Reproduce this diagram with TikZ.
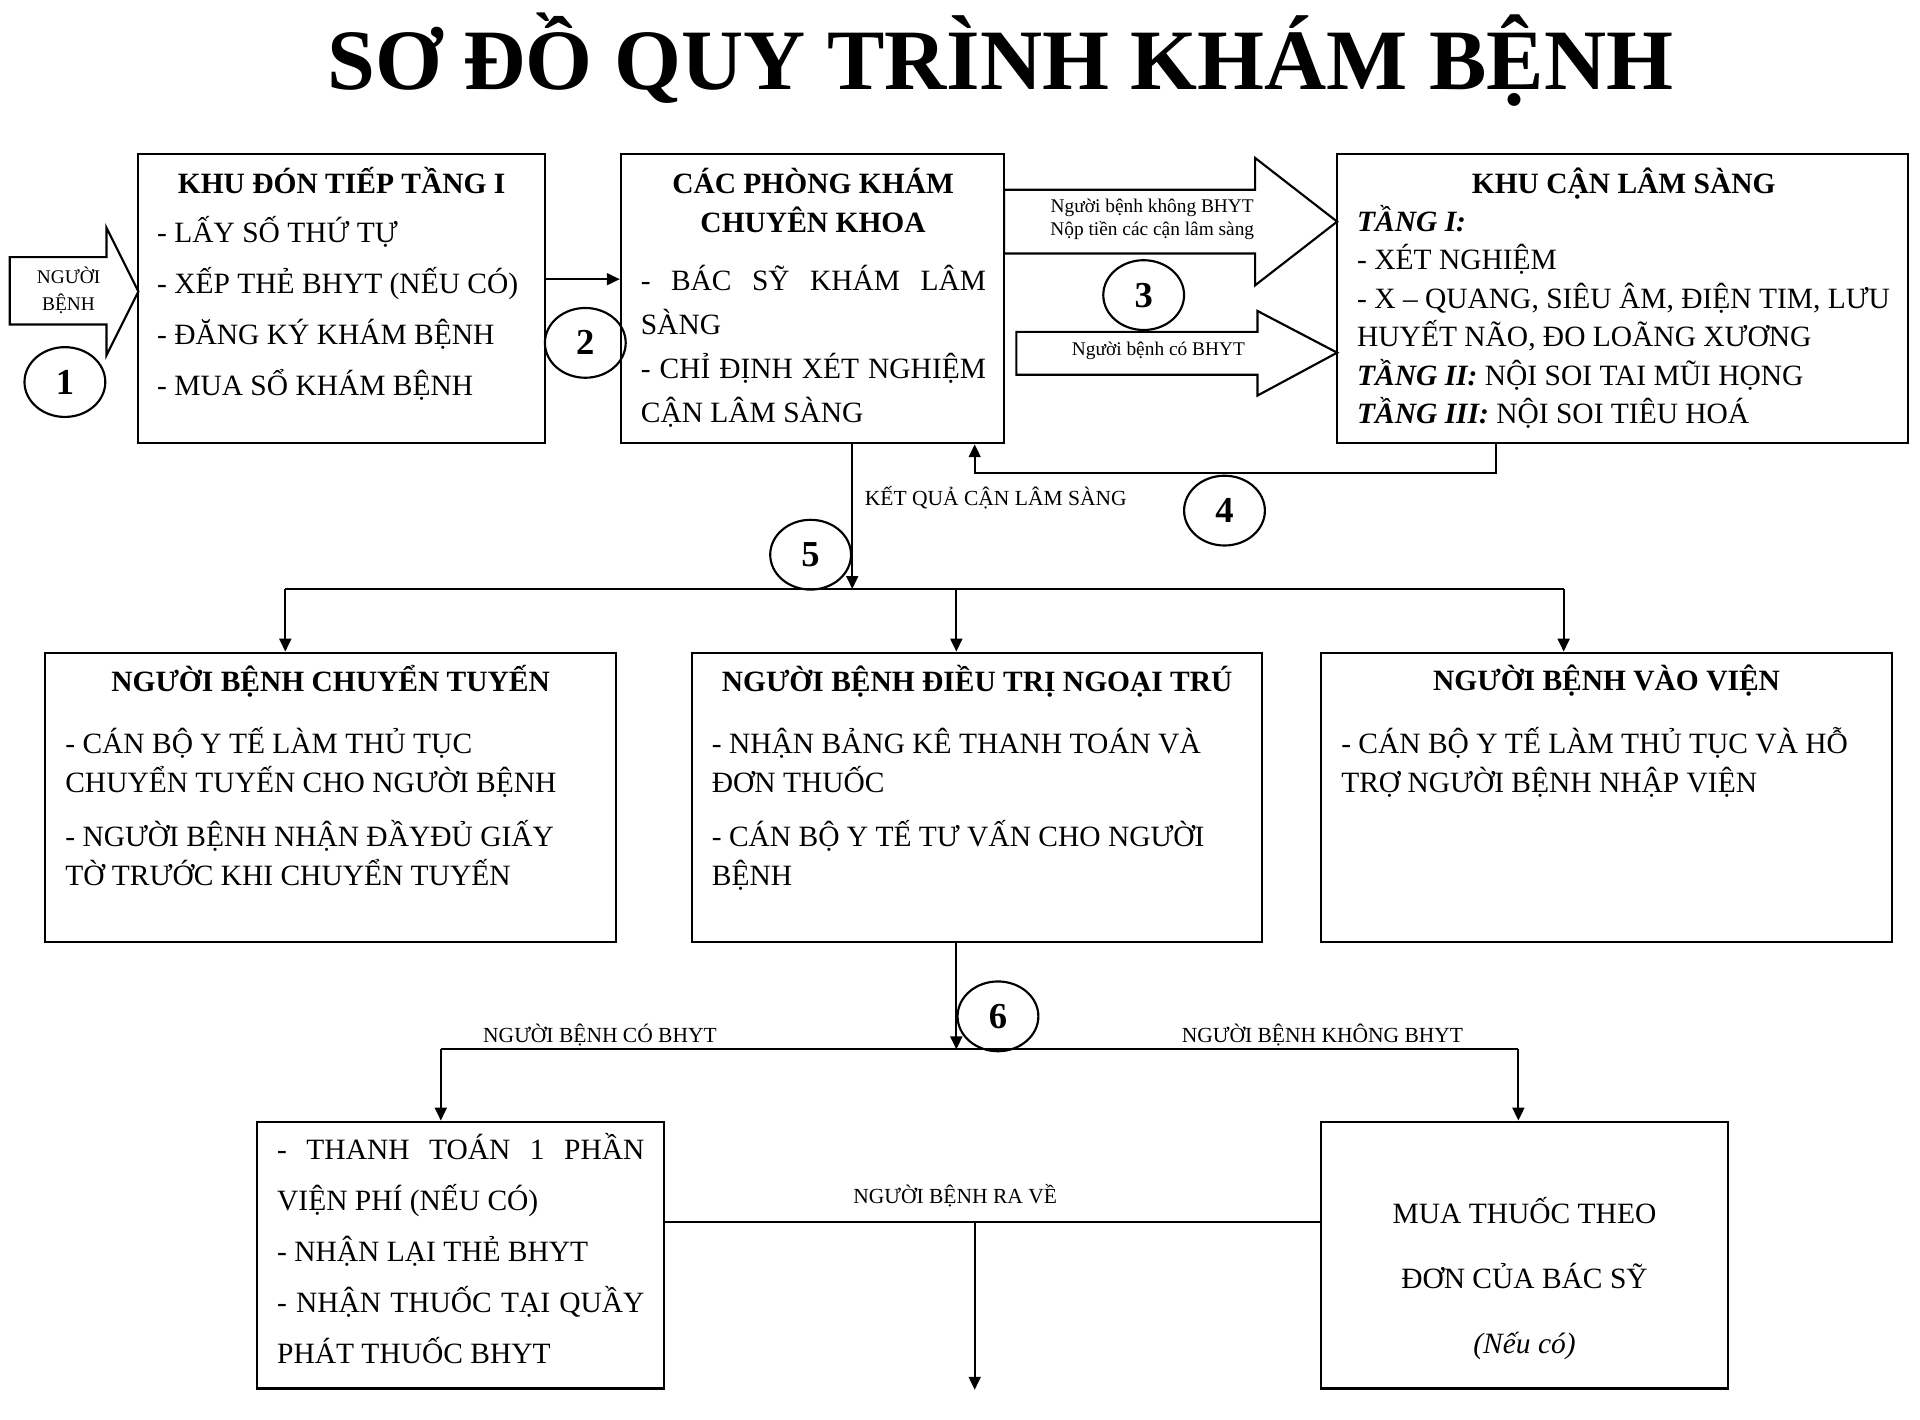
\documentclass[tikz,border=0pt]{standalone}
\usepackage{fontspec}
\setmainfont{Liberation Serif}
\usetikzlibrary{positioning,shapes.geometric,arrows.meta}
\newcommand\bodyfont[1]{\fontsize{13.7pt}{#1}\selectfont}

\begin{document}
\begin{tikzpicture}[x=0.02cm,y=-0.02cm]
    \tikzset{panel/.style={draw, line width=1pt, inner sep=0pt},
             head/.style={inner sep=0pt, anchor=north, align=center, font=\bodyfont{18.2pt}\bfseries},
             items/.style={inner sep=0pt, anchor=north west, align=left},
             tag/.style={inner sep=0pt, font=\fontsize{10pt}{12pt}\selectfont},
             num/.style={draw, ellipse, line width=1pt, minimum width=1.32cm, minimum height=1.14cm, inner sep=0pt, font=\fontsize{17pt}{17pt}\selectfont\bfseries},
             flow/.style={-{Triangle[length=6pt,width=5.5pt]}, line width=1pt},
             link/.style={line width=1pt},
             bigarrow/.style={draw, line width=1pt}}
    \useasboundingbox (0,0) rectangle (1568,1159);

    \node[anchor=base, inner sep=0pt, font=\fontsize{40pt}{40pt}\selectfont\bfseries] (title) at (817,73.5) {SƠ ĐỒ QUY TRÌNH KHÁM BỆNH};

    % top row
    \node[panel, minimum width=6.64cm, minimum height=4.72cm] (boxA) at (279,244) {};
    \node[panel, minimum width=6.26cm, minimum height=4.72cm] (boxB) at (663.5,244) {};
    \node[panel, minimum width=9.32cm, minimum height=4.72cm] (boxC) at (1325,244) {};

    \node[head] (titleA) at (279,136.6) {KHU ĐÓN TIẾP TẦNG I};
    \node[items, font=\bodyfont{23.6pt}] (textA) at (128,176.6) {- LẤY SỐ THỨ TỰ\\- XẾP THẺ BHYT (NẾU CÓ)\\- ĐĂNG KÝ KHÁM BỆNH\\- MUA SỔ KHÁM BỆNH};
    \node[head] (titleB) at (664,137) {CÁC PHÒNG KHÁM\\CHUYÊN KHOA};
    \node[items, align=justify, text width=5.64cm, font=\bodyfont{20.5pt}] (textB) at (523,216)
        {- BÁC SỸ KHÁM LÂM\linebreak SÀNG\par - CHỈ ĐỊNH XÉT NGHIỆM\linebreak CẬN LÂM SÀNG};
    \node[head] (titleC) at (1326,137) {KHU CẬN LÂM SÀNG};
    \node[items, font=\bodyfont{17.9pt}] (textC) at (1108,167)
        {\textbf{\textit{TẦNG I:}}\\- XÉT NGHIỆM\\- X – QUANG, SIÊU ÂM, ĐIỆN TIM, LƯU\\HUYẾT NÃO, ĐO LOÃNG XƯƠNG\\\textbf{\textit{TẦNG II:}} NỘI SOI TAI MŨI HỌNG\\\textbf{\textit{TẦNG III:}} NỘI SOI TIÊU HOÁ};

    % entry arrow and step 1
    \draw[bigarrow] (8,210) -- (87,210) -- (87,186) -- (113,238) -- (87,290) -- (87,265) -- (8,265) -- cycle;
    \node[align=center, inner sep=0pt, font=\fontsize{9pt}{12.5pt}\selectfont] (patient) at (56,237) {NGƯỜI\\BỆNH};
    \node[num] (n1) at (53,312) {1};

    % step 2
    \draw[flow] (boxA.east |- 0,228) -- (boxB.west |- 0,228);
    \node[num] (n2) at (478,280) {2};

    % step 3
    \draw[bigarrow] (820,155) -- (1025,155) -- (1025,129) -- (1092,181) -- (1025,233) -- (1025,207) -- (820,207) -- cycle;
    \node[align=center, inner sep=0pt, font=\fontsize{9pt}{10.8pt}\selectfont] (paid) at (941,179) {Người bệnh không BHYT\\Nộp tiền các cận lâm sàng};
    \draw[bigarrow] (830,271) -- (1027,271) -- (1027,254) -- (1092,288) -- (1027,323) -- (1027,306) -- (830,306) -- cycle;
    \node[anchor=base, inner sep=0pt, font=\fontsize{9pt}{10.8pt}\selectfont] (insured) at (946,290) {Người bệnh có BHYT};
    \node[num] (n3) at (934,241) {3};

    % step 4
    \coordinate (back) at (796,386);
    \draw[flow] (boxC.south -| 1222,0) |- (back) -- (boxB.south -| back);
    \node[tag, anchor=base west] (result) at (706,413) {KẾT QUẢ CẬN LÂM SÀNG};
    \node[num] (n4) at (1000,417) {4};

    % step 5
    \coordinate (split) at (696,481);
    \coordinate (busL) at (233,481);
    \coordinate (busM) at (781,481);
    \coordinate (busR) at (1277,481);
    \draw[flow] (boxB.south -| split) -- (split);
    \node[num] (n5) at (662,453) {5};
    \draw[link] (busL) -- (busR);

    % middle row
    \node[panel, minimum width=9.32cm, minimum height=4.72cm] (boxD) at (270,651) {};
    \node[panel, minimum width=9.32cm, minimum height=4.72cm] (boxE) at (798,651) {};
    \node[panel, minimum width=9.32cm, minimum height=4.72cm] (boxF) at (1312,651) {};
    \draw[flow] (busL) -- (boxD.north -| busL);
    \draw[flow] (busM) -- (boxE.north -| busM);
    \draw[flow] (busR) -- (boxF.north -| busR);

    \node[head] (titleD) at (270,542.6) {NGƯỜI BỆNH CHUYỂN TUYẾN};
    \node[items, font=\bodyfont{18.2pt}] (textD) at (53,593.6)
        {- CÁN BỘ Y TẾ LÀM THỦ TỤC\\CHUYỂN TUYẾN CHO NGƯỜI BỆNH\\[7pt]- NGƯỜI BỆNH NHẬN ĐẦYĐỦ GIẤY\\TỜ TRƯỚC KHI CHUYỂN TUYẾN};
    \node[head] (titleE) at (798,542.6) {NGƯỜI BỆNH ĐIỀU TRỊ NGOẠI TRÚ};
    \node[items, font=\bodyfont{18.2pt}] (textE) at (581,594.5)
        {- NHẬN BẢNG KÊ THANH TOÁN VÀ\\ĐƠN THUỐC\\[6.5pt]- CÁN BỘ Y TẾ TƯ VẤN CHO NGƯỜI\\BỆNH};
    \node[head] (titleF) at (1312,543) {NGƯỜI BỆNH VÀO VIỆN};
    \node[items, font=\bodyfont{18.2pt}] (textF) at (1095,593.6)
        {- CÁN BỘ Y TẾ LÀM THỦ TỤC VÀ HỖ\\TRỢ NGƯỜI BỆNH NHẬP VIỆN};

    % step 6
    \coordinate (fork) at (781,857);
    \coordinate (forkL) at (360,857);
    \coordinate (forkR) at (1240,857);
    \draw[flow] (boxE.south -| fork) -- (fork);
    \node[num] (n6) at (815,830) {6};
    \draw[link] (forkL) -- (forkR);
    \node[tag, anchor=base] (withcard) at (490,851) {NGƯỜI BỆNH CÓ BHYT};
    \node[tag, anchor=base] (nocard) at (1080,851) {NGƯỜI BỆNH KHÔNG BHYT};

    % bottom row
    \node[panel, minimum width=6.64cm, minimum height=4.36cm] (boxG) at (376,1025) {};
    \node[panel, minimum width=6.64cm, minimum height=4.36cm] (boxH) at (1245,1025) {};
    \draw[flow] (forkL) -- (boxG.north -| forkL);
    \draw[flow] (forkR) -- (boxH.north -| forkR);

    \node[items, align=justify, text width=6cm, font=\bodyfont{23.6pt}] (textG) at (226,925.6)
        {- THANH TOÁN 1 PHẦN\linebreak VIỆN PHÍ (NẾU CÓ)\par - NHẬN LẠI THẺ BHYT\par - NHẬN THUỐC TẠI QUẦY\linebreak PHÁT THUỐC BHYT};
    \node[head, font=\bodyfont{30.2pt}] (textH) at (1245,977.6) {MUA THUỐC THEO\\ĐƠN CỦA BÁC SỸ\\\textit{(Nếu có)}};

    % exit
    \coordinate (exit) at (796,998);
    \coordinate (out) at (796,1135);
    \draw[link] (boxG.east |- exit) -- (boxH.west |- exit);
    \draw[flow] (exit) -- (out);
    \node[tag, anchor=base] (leave) at (780,983) {NGƯỜI BỆNH RA VỀ};
\end{tikzpicture}
\end{document}
